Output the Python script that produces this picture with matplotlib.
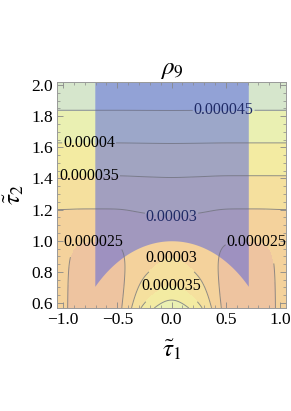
import matplotlib.pyplot as plt
import numpy as np
from matplotlib.ticker import MultipleLocator

plt.rcParams['font.family'] = ['Liberation Serif', 'DejaVu Serif']
plt.rcParams['mathtext.fontset'] = 'stix'

# contour levels of rho_9 and the shading between them (low -> high)
levels = [2.5e-5, 3.0e-5, 3.5e-5, 4.0e-5, 4.5e-5]
band_colors = ['#eec4a0', '#f4d29c', '#f5e09e', '#f3eba2', '#eaf0b2', '#d6e6cc']

# where the contour labels sit
label_pos = [(0.48, 1.82), (-0.76, 1.62), (-0.76, 1.42), (0.0, 1.14),
             (-0.72, 1.0), (0.78, 1.0), (0.0, 0.87), (0.0, 0.70)]

x_ticks = [-1.0, -0.5, 0.0, 0.5, 1.0]
y_ticks = [0.6, 0.8, 1.0, 1.2, 1.4, 1.6, 1.8, 2.0]
x_lim = (-1.055, 1.055)
y_lim = (0.568, 2.02)

# blue region: |t1| < 1/sqrt(2) and t1^2 + t2^2 > 1
edge = 1 / np.sqrt(2)

# the field (in units of 1e-5)
x = np.linspace(*x_lim, 500)
y = np.linspace(*y_lim, 500)
X, Y = np.meshgrid(x, y)
t = Y - 1.05
base = 2.6 + 2.4 * (t + np.sqrt(t**2 + 0.105**2)) / 2
A = 1.75 * np.exp(-(Y - 0.572) / 0.2)
G = 0.35 * np.exp(-(X / 0.17)**2) + 0.65 * np.exp(-(X / 0.38)**4)
d = np.abs(X) - 0.69
sd = np.where(d > 0, 0.258, 0.30)
S = 1 / (1 + np.exp((Y - 0.99) / 0.06))
dip = 0.36 * S * np.exp(-(d / sd)**4)
Z = (base + A * G - dip) * 1e-5

fig = plt.figure(figsize=(2.91, 4.11), dpi=100)
ax = fig.add_axes([0.196, 0.2506, 0.787, 0.550])

ax.contourf(X, Y, Z, levels=[-1] + levels + [1], colors=band_colors)

xs = np.linspace(-edge, edge, 400)
ax.fill_between(xs, np.sqrt(1 - xs**2), y_lim[1], color=(80/255, 95/255, 225/255),
                alpha=0.5, lw=0)

cs = ax.contour(X, Y, Z, levels=levels, colors='#6e6e7a', linewidths=0.7, alpha=0.75)
fmt = lambda v: f"{v:.6f}".rstrip('0')
texts = ax.clabel(cs, manual=label_pos, fmt=fmt, fontsize=11.5, inline=True, inline_spacing=1)
for tx in texts:
    tx.set_rotation(0)
    px, py = tx.get_position()
    if abs(px) < edge and px**2 + py**2 > 1:
        tx.set_color('#1f2a66')
    else:
        tx.set_color('black')

ax.set_xlim(*x_lim)
ax.set_ylim(*y_lim)
ax.set_xticks(x_ticks)
ax.set_yticks(y_ticks)
ax.set_xticklabels([f"{v:.1f}".replace('-', '\u2212') for v in x_ticks])
ax.set_yticklabels([f"{v:.1f}" for v in y_ticks])
ax.xaxis.set_minor_locator(MultipleLocator(0.1))
ax.yaxis.set_minor_locator(MultipleLocator(0.05))
ax.tick_params(which='both', direction='in', top=True, right=True, color='#888888',
               labelsize=12.5)
ax.tick_params(which='major', length=4, width=0.6, pad=3)
ax.tick_params(which='minor', length=2, width=0.5)
for s in ax.spines.values():
    s.set_color('#999999')
    s.set_linewidth(0.7)

ax.set_title(r'$\rho_9$', fontsize=18, pad=6)
ax.set_xlabel(r'$\tilde{\tau}_1$', fontsize=18, labelpad=7)
ax.set_ylabel(r'$\tilde{\tau}_2$', fontsize=18, labelpad=4)

fig.savefig('out.png', dpi=100)
